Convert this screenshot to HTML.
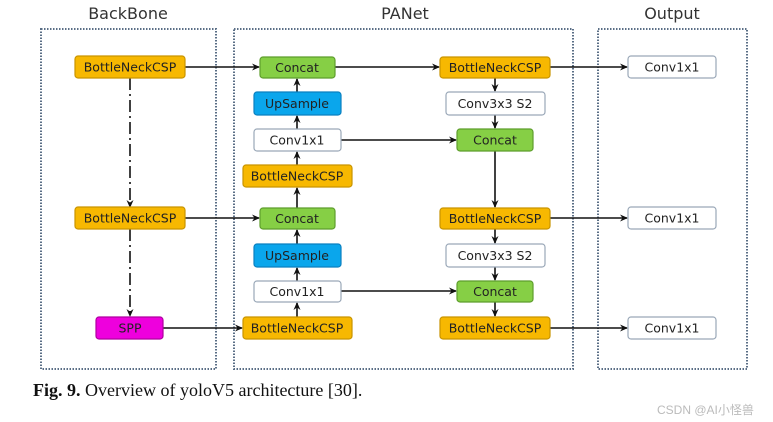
<!DOCTYPE html>
<html><head><meta charset="utf-8"><style>
html,body{margin:0;padding:0;background:#fff;}
svg{display:block;}
.t{font-family:"DejaVu Sans","Liberation Sans",sans-serif;font-size:12.5px;fill:#222;text-anchor:middle;dominant-baseline:central;}
.h{font-family:"DejaVu Sans","Liberation Sans",sans-serif;font-size:16px;fill:#333;text-anchor:middle;}
</style></head><body>
<svg width="773" height="422" viewBox="0 0 773 422" xmlns="http://www.w3.org/2000/svg">
<defs><marker id="a" markerWidth="8" markerHeight="8" refX="7" refY="4" orient="auto" markerUnits="userSpaceOnUse"><path d="M0,0.5 L8,4 L0,7.5 L2.5,4 Z" fill="#111"/></marker></defs>
<text class="h" x="128" y="19">BackBone</text>
<text class="h" x="405" y="19">PANet</text>
<text class="h" x="672" y="19">Output</text>
<g fill="none" stroke="#5a6e86" stroke-width="2" stroke-dasharray="1.5 1.5">
<rect x="41" y="29" width="175" height="340"/>
<rect x="234" y="29" width="339" height="340"/>
<rect x="598" y="29" width="149" height="340"/>
</g>
<g stroke="#111" stroke-width="1.6" fill="none">
<path d="M130 78 V207" stroke-dasharray="12 4 2 4" marker-end="url(#a)"/>
<path d="M130 229 V316" stroke-dasharray="12 4 2 4" marker-end="url(#a)"/>
<path d="M185 67 H259" marker-end="url(#a)"/>
<path d="M185 218 H259" marker-end="url(#a)"/>
<path d="M163 328 H242" marker-end="url(#a)"/>
<path d="M297 92 V79" marker-end="url(#a)"/>
<path d="M297 129 V116" marker-end="url(#a)"/>
<path d="M297 165 V152" marker-end="url(#a)"/>
<path d="M297 208 V188" marker-end="url(#a)"/>
<path d="M297 244 V230" marker-end="url(#a)"/>
<path d="M297 281 V268" marker-end="url(#a)"/>
<path d="M297 317 V303" marker-end="url(#a)"/>
<path d="M335 67 H439" marker-end="url(#a)"/>
<path d="M341 140 H456" marker-end="url(#a)"/>
<path d="M341 291 H456" marker-end="url(#a)"/>
<path d="M495 78 V91" marker-end="url(#a)"/>
<path d="M495 115 V128" marker-end="url(#a)"/>
<path d="M495 151 V207" marker-end="url(#a)"/>
<path d="M495 229 V243" marker-end="url(#a)"/>
<path d="M495 267 V280" marker-end="url(#a)"/>
<path d="M495 302 V316" marker-end="url(#a)"/>
<path d="M550 67 H627" marker-end="url(#a)"/>
<path d="M550 218 H627" marker-end="url(#a)"/>
<path d="M550 328 H627" marker-end="url(#a)"/>
</g>
<g stroke-width="1.2">
<rect x="75" y="56" width="110" height="22" rx="3" fill="#f7b801" stroke="#c99400"/><text class="t" x="130" y="67">BottleNeckCSP</text>
<rect x="75" y="207" width="110" height="22" rx="3" fill="#f7b801" stroke="#c99400"/><text class="t" x="130" y="218">BottleNeckCSP</text>
<rect x="96" y="317" width="67" height="22" rx="3" fill="#ee00dd" stroke="#b000a0"/><text class="t" x="130" y="328">SPP</text>

<rect x="260" y="57" width="75" height="21" rx="3" fill="#86cf45" stroke="#5e9e2c"/><text class="t" x="297" y="67.5">Concat</text>
<rect x="254" y="92" width="87" height="23" rx="3" fill="#0aa6ec" stroke="#0a80c0"/><text class="t" x="297" y="103.5">UpSample</text>
<rect x="254" y="129" width="87" height="22" rx="3" fill="#fff" stroke="#9aa8b8"/><text class="t" x="297" y="140">Conv1x1</text>
<rect x="243" y="165" width="109" height="22" rx="3" fill="#f7b801" stroke="#c99400"/><text class="t" x="297" y="176">BottleNeckCSP</text>
<rect x="260" y="208" width="75" height="21" rx="3" fill="#86cf45" stroke="#5e9e2c"/><text class="t" x="297" y="218.5">Concat</text>
<rect x="254" y="244" width="87" height="23" rx="3" fill="#0aa6ec" stroke="#0a80c0"/><text class="t" x="297" y="255.5">UpSample</text>
<rect x="254" y="281" width="87" height="21" rx="3" fill="#fff" stroke="#9aa8b8"/><text class="t" x="297" y="291.5">Conv1x1</text>
<rect x="243" y="317" width="109" height="22" rx="3" fill="#f7b801" stroke="#c99400"/><text class="t" x="297" y="328">BottleNeckCSP</text>

<rect x="440" y="57" width="110" height="21" rx="3" fill="#f7b801" stroke="#c99400"/><text class="t" x="495" y="67.5">BottleNeckCSP</text>
<rect x="446" y="92" width="99" height="23" rx="3" fill="#fff" stroke="#9aa8b8"/><text class="t" x="495" y="103.5">Conv3x3 S2</text>
<rect x="457" y="129" width="76" height="22" rx="3" fill="#86cf45" stroke="#5e9e2c"/><text class="t" x="495" y="140">Concat</text>
<rect x="440" y="208" width="110" height="21" rx="3" fill="#f7b801" stroke="#c99400"/><text class="t" x="495" y="218.5">BottleNeckCSP</text>
<rect x="446" y="244" width="99" height="23" rx="3" fill="#fff" stroke="#9aa8b8"/><text class="t" x="495" y="255.5">Conv3x3 S2</text>
<rect x="457" y="281" width="76" height="21" rx="3" fill="#86cf45" stroke="#5e9e2c"/><text class="t" x="495" y="291.5">Concat</text>
<rect x="440" y="317" width="110" height="22" rx="3" fill="#f7b801" stroke="#c99400"/><text class="t" x="495" y="328">BottleNeckCSP</text>

<rect x="628" y="56" width="88" height="22" rx="3" fill="#fff" stroke="#9aa8b8"/><text class="t" x="672" y="67">Conv1x1</text>
<rect x="628" y="207" width="88" height="22" rx="3" fill="#fff" stroke="#9aa8b8"/><text class="t" x="672" y="218">Conv1x1</text>
<rect x="628" y="317" width="88" height="22" rx="3" fill="#fff" stroke="#9aa8b8"/><text class="t" x="672" y="328">Conv1x1</text>
</g>
<text x="33" y="396" style="font-family:'Liberation Serif',serif;font-size:18px;fill:#111"><tspan font-weight="bold">Fig. 9.</tspan> Overview of yoloV5 architecture [30].</text>
<text x="657" y="414" style="font-family:'Liberation Sans','Noto Sans CJK SC',sans-serif;font-size:12px;fill:#bbb">CSDN @AI小怪兽</text>
</svg>
</body></html>
